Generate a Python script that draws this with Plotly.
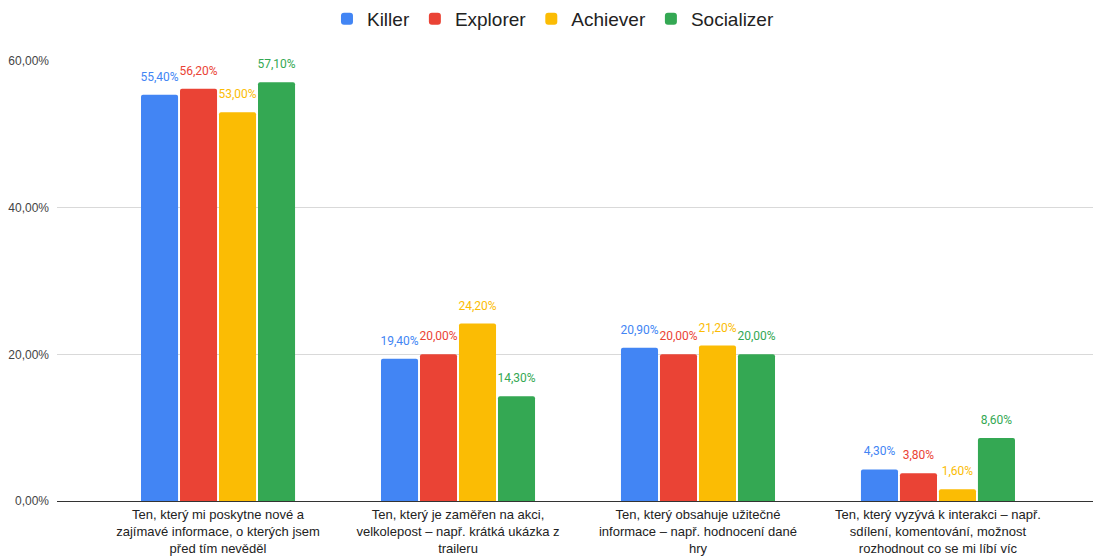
import plotly.graph_objects as go

categories = [
    "Ten, který mi poskytne nové a<br>zajímavé informace, o kterých jsem<br>před tím nevěděl",
    "Ten, který je zaměřen na akci,<br>velkolepost – např. krátká ukázka z<br>traileru",
    "Ten, který obsahuje užitečné<br>informace – např. hodnocení dané<br>hry",
    "Ten, který vyzývá k interakci – např.<br>sdílení, komentování, možnost<br>rozhodnout co se mi líbí víc",
]
killer = [55.4, 19.4, 20.9, 4.3]
explorer = [56.2, 20.0, 20.0, 3.8]
achiever = [53.0, 24.2, 21.2, 1.6]
socializer = [57.1, 14.3, 20.0, 8.6]
y_ticks = [0, 20, 40, 60]

series = [
    ("Killer", killer, "#4285F4"),
    ("Explorer", explorer, "#EA4335"),
    ("Achiever", achiever, "#FBBC04"),
    ("Socializer", socializer, "#34A853"),
]

def fmt(v):
    return f"{v:.2f}".replace(".", ",") + "%"

x_idx = list(range(len(categories)))

fig = go.Figure()
for name, vals, color in series:
    fig.add_trace(go.Bar(
        name=name, x=x_idx, y=vals, offsetgroup=name,
        marker=dict(color=color, line=dict(width=0)),
        hoverinfo="skip",
    ))
# value labels sit a little above each bar, grouped the same way as the bars
for name, vals, color in series:
    fig.add_trace(go.Scatter(
        x=x_idx, y=vals, offsetgroup=name, showlegend=False,
        mode="markers+text", marker=dict(size=16, opacity=0),
        text=[fmt(v) for v in vals], textposition="top center",
        textfont=dict(family="Roboto", size=12, color=color),
        cliponaxis=False, hoverinfo="skip",
    ))

fig.update_layout(
    width=1095, height=558,
    margin=dict(l=57, r=2, t=61, b=57),
    paper_bgcolor="white", plot_bgcolor="white",
    barmode="group", bargap=0.35, bargroupgap=0.05, barcornerradius=2,
    scattermode="group", scattergap=0.35,
    font=dict(family="Liberation Sans, Arial", color="#222"),
    legend=dict(
        orientation="h", x=0.505, xanchor="center", xref="container",
        y=1.0, yanchor="top", yref="container",
        font=dict(size=19, color="#222"), traceorder="normal",
    ),
    xaxis=dict(
        tickmode="array", tickvals=x_idx, ticktext=categories,
        range=[-0.671, 3.646], showgrid=False, showline=False, zeroline=False,
        tickfont=dict(size=13, color="#222"), ticks="", ticklabelstandoff=4,
        automargin=False,
    ),
    yaxis=dict(
        range=[0, 60], tickmode="array", tickvals=y_ticks,
        ticktext=[fmt(v) for v in y_ticks],
        showgrid=True, gridcolor="#d9d9d9", gridwidth=1,
        zeroline=True, zerolinecolor="#333", zerolinewidth=1,
        tickfont=dict(size=12, color="#444"), ticks="", ticklabelstandoff=7,
        automargin=False,
    ),
)
fig.write_html("out.html")
